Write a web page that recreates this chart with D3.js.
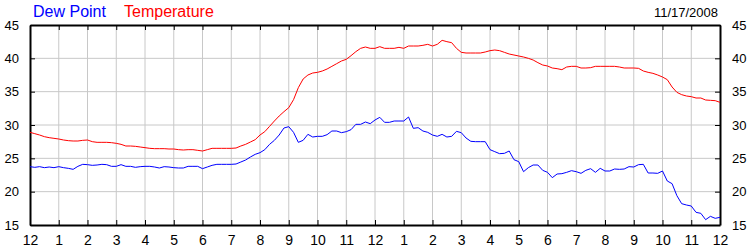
<!DOCTYPE html>
<html>
<head>
<meta charset="utf-8">
<script src="https://cdn.jsdelivr.net/npm/d3@7"></script>
<style>
  body { margin: 0; background: #fff; }
  text { font-family: "Liberation Sans", Arial, sans-serif; }
</style>
</head>
<body>
<div id="chart"></div>
<script>
// readings every 10 minutes, midnight to midnight
const stepMinutes = 10;

const temperature = [
  28.9, 28.7, 28.5, 28.25, 28.1, 28.0, 27.9, 27.75, 27.65, 27.6, 27.6, 27.7,
  27.75, 27.5, 27.4, 27.4, 27.4, 27.35, 27.25, 27.1, 26.85, 26.85, 26.8, 26.7,
  26.6, 26.5, 26.45, 26.45, 26.45, 26.4, 26.4, 26.3, 26.25, 26.3, 26.3, 26.2, 26.1,
  26.3, 26.5, 26.5, 26.5, 26.5, 26.5, 26.55, 26.85, 27.1, 27.45, 27.8, 28.5,
  29.0, 29.8, 30.6, 31.35, 32.0, 32.6, 33.8, 35.6, 36.9, 37.5, 37.8, 37.9,
  38.1, 38.4, 38.8, 39.2, 39.6, 39.85, 40.4, 41.0, 41.5, 41.7, 41.5, 41.5,
  41.75, 41.5, 41.5, 41.5, 41.65, 41.5, 41.85, 41.85, 41.85, 41.95, 42.1, 41.85,
  42.1, 42.7, 42.5, 42.35, 41.5, 40.9, 40.8, 40.8, 40.8, 40.8, 40.95, 41.15,
  41.25, 41.15, 40.9, 40.65, 40.5, 40.35, 40.2, 40.0, 39.75, 39.35, 39.0, 38.85,
  38.55, 38.45, 38.3, 38.7, 38.8, 38.8, 38.55, 38.55, 38.6, 38.8, 38.8, 38.8,
  38.8, 38.8, 38.7, 38.55, 38.55, 38.55, 38.5, 38.1, 37.9, 37.75, 37.5, 37.2,
  36.8, 35.7, 34.9, 34.55, 34.35, 34.25, 34.05, 34.05, 33.75, 33.7, 33.65, 33.4
];

const dewPoint = [
  23.75, 23.65, 23.75, 23.6, 23.7, 23.6, 23.75, 23.6, 23.5, 23.35, 23.8, 24.1,
  24.05, 23.95, 24.0, 24.1, 24.05, 23.8, 23.8, 24.05, 23.8, 23.8, 23.65, 23.75,
  23.8, 23.8, 23.7, 23.55, 23.75, 23.7, 23.6, 23.55, 23.55, 23.8, 23.8, 23.8, 23.45,
  23.7, 23.95, 24.1, 24.1, 24.1, 24.1, 24.15, 24.45, 24.75, 25.2, 25.6, 25.85,
  26.3, 27.1, 27.7, 28.5, 29.55, 29.75, 28.9, 27.4, 27.7, 28.6, 28.2, 28.3,
  28.3, 28.55, 29.1, 29.1, 28.85, 29.0, 29.3, 30.1, 30.1, 30.45, 30.2, 30.75,
  31.15, 30.4, 30.4, 30.6, 30.6, 30.6, 31.2, 29.5, 29.6, 29.1, 28.9, 28.5,
  28.3, 28.6, 28.2, 28.3, 29.05, 28.85, 28.05, 27.55, 27.5, 27.5, 27.5, 26.3,
  26.0, 25.7, 25.75, 26.1, 24.8, 24.5, 23.0, 23.6, 24.0, 24.0, 23.2, 22.9,
  22.1, 22.65, 22.7, 22.9, 23.15, 23.0, 22.75, 23.2, 23.45, 22.9, 23.5, 23.1,
  23.1, 23.4, 23.35, 23.4, 23.75, 23.7, 24.05, 24.1, 22.8, 22.8, 22.75, 23.1,
  21.6, 21.2, 19.4, 18.2, 18.0, 17.85, 16.9, 16.75, 15.8, 16.3, 16.0, 16.15
];

const hourLabels = ["12", "1", "2", "3", "4", "5", "6", "7", "8", "9", "10", "11",
                    "12", "1", "2", "3", "4", "5", "6", "7", "8", "9", "10", "11", "12"];
const yTicks = [15, 20, 25, 30, 35, 40, 45];
const dateLabel = "11/17/2008";

// Layout
const width = 750, height = 250;
const margin = {top: 25, right: 30, bottom: 25, left: 30};
const innerW = width - margin.left - margin.right,
      innerH = height - margin.top - margin.bottom;

const x = d3.scaleLinear().domain([0, 24]).range([0, innerW]);
const y = d3.scaleLinear().domain([15, 45]).range([innerH, 0]);

const svg = d3.select("#chart").append("svg")
  .attr("width", width)
  .attr("height", height);

const g = svg.append("g")
  .attr("transform", `translate(${margin.left},${margin.top})`);

// Grid
g.append("g")
  .selectAll("line")
  .data(d3.range(1, 24))
  .join("line")
    .attr("x1", d => x(d)).attr("x2", d => x(d))
    .attr("y1", 0).attr("y2", innerH)
    .attr("stroke", "#c8c8c8");

g.append("g")
  .selectAll("line")
  .data(yTicks.slice(1, -1))
  .join("line")
    .attr("x1", 0).attr("x2", innerW)
    .attr("y1", d => y(d)).attr("y2", d => y(d))
    .attr("stroke", "#c8c8c8");

// Axes (ticks point inward)
const hourAxis = (axis) => axis.tickValues(d3.range(0, 25)).tickSizeInner(-5).tickSizeOuter(0);

g.append("g")
  .attr("class", "axis x-bottom")
  .attr("transform", `translate(0,${innerH})`)
  .call(hourAxis(d3.axisBottom(x)).tickFormat((d, i) => hourLabels[i]).tickPadding(10));

g.append("g")
  .attr("class", "axis")
  .call(hourAxis(d3.axisTop(x)).tickFormat(""));

g.append("g")
  .attr("class", "axis")
  .call(d3.axisLeft(y).tickValues(yTicks).tickSizeInner(-5).tickSizeOuter(0).tickPadding(11));

g.append("g")
  .attr("class", "axis")
  .attr("transform", `translate(${innerW},0)`)
  .call(d3.axisRight(y).tickValues(yTicks).tickSizeInner(-5).tickSizeOuter(0).tickPadding(12));

g.selectAll(".axis path").attr("stroke", "#000").attr("stroke-width", 2);
g.selectAll(".axis line").attr("stroke", "#000");
g.selectAll(".axis text")
  .attr("fill", "#000")
  .style("font-family", '"Liberation Sans", Arial, sans-serif')
  .style("font-size", "13px");
g.selectAll(".x-bottom text").style("font-size", "14px");

// Lines
const line = d3.line()
  .x((d, i) => x(i * stepMinutes / 60))
  .y(d => y(d));

g.append("path")
  .datum(dewPoint)
  .attr("fill", "none")
  .attr("stroke", "#0000ff")
  .attr("stroke-width", 1)
  .attr("d", line);

g.append("path")
  .datum(temperature)
  .attr("fill", "none")
  .attr("stroke", "#ff0000")
  .attr("stroke-width", 1)
  .attr("d", line);

// Legend and date
svg.append("text")
  .attr("x", 33).attr("y", 17)
  .attr("fill", "#0000ff")
  .style("font-size", "16px")
  .text("Dew Point");

svg.append("text")
  .attr("x", 124).attr("y", 17)
  .attr("fill", "#ff0000")
  .style("font-size", "16px")
  .text("Temperature");

svg.append("text")
  .attr("x", 718).attr("y", 17)
  .attr("text-anchor", "end")
  .attr("fill", "#000")
  .style("font-size", "13px")
  .text(dateLabel);
</script>
</body>
</html>
